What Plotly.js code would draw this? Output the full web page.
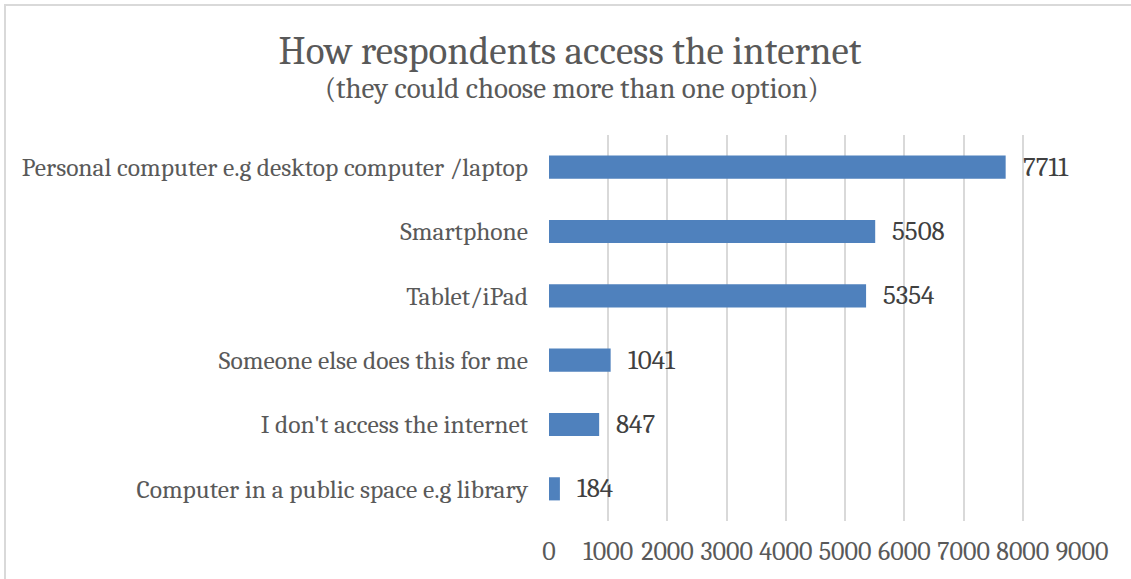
<!DOCTYPE html>
<html>
<head>
<meta charset="utf-8">
<script src="https://cdn.plot.ly/plotly-3.0.1.min.js"></script>
<style>
  html, body { margin: 0; padding: 0; background: #ffffff; }
  #chart { width: 1131px; height: 579px; position: relative; }
  #frame { position: absolute; left: 4px; top: 4px; width: 1140px; height: 600px;
           border-top: 2px solid #d9d9d9; border-left: 2px solid #d9d9d9; pointer-events: none; }
</style>
</head>
<body>
<div id="chart"></div>
<div id="frame"></div>
<script>
// Data
const categories = [
  "Computer in a public space e.g library",
  "I don't access the internet",
  "Someone else does this for me",
  "Tablet/iPad",
  "Smartphone",
  "Personal computer e.g desktop computer /laptop"
];
const counts = [184, 847, 1041, 5354, 5508, 7711];
const xTickValues = [0, 1000, 2000, 3000, 4000, 5000, 6000, 7000, 8000, 9000];
const titleText = "How respondents access the internet";
const subtitleText = "(they could choose more than one option)";

const FONT = "Cambria, 'Liberation Serif', 'DejaVu Serif', serif";
const GREY = "#595959";

const trace = {
  type: "bar",
  orientation: "h",
  x: counts,
  y: categories,
  marker: { color: "#4f81bd" },
  width: 0.36,
  hoverinfo: "x+y"
};

const annotations = categories.map((c, i) => ({
  x: counts[i], y: c, xref: "x", yref: "y",
  text: String(counts[i]),
  showarrow: false, xanchor: "left", yanchor: "middle",
  xshift: 15,
  font: { family: FONT, size: 27, color: "#404040" }
}));

annotations.push({
  xref: "paper", yref: "paper",
  x: (572 - 549) / 533, y: (521 - 88) / 386,
  xanchor: "center", yanchor: "middle",
  text: subtitleText, showarrow: false,
  font: { family: FONT, size: 29, color: GREY }
});

const layout = {
  width: 1131, height: 579,
  margin: { l: 549, r: 49, t: 135, b: 58 },
  paper_bgcolor: "#ffffff",
  plot_bgcolor: "#ffffff",
  font: { family: FONT, color: GREY, size: 25 },
  title: {
    text: titleText,
    xref: "container", yref: "container",
    x: 570 / 1131, xanchor: "center",
    y: 1 - 50 / 579, yanchor: "middle",
    font: { family: FONT, size: 39, color: GREY }
  },
  xaxis: {
    range: [0, 9000],
    tickvals: xTickValues,
    ticktext: xTickValues.map(String),
    showgrid: true, gridcolor: "#d9d9d9", gridwidth: 2,
    zeroline: false, showline: false,
    ticks: "", ticklabelstandoff: 12,
    tickfont: { family: FONT, size: 26, color: GREY },
    fixedrange: true
  },
  yaxis: {
    categoryorder: "array", categoryarray: categories,
    showgrid: false, zeroline: false, showline: false,
    ticks: "", ticklabelstandoff: 20,
    tickfont: { family: FONT, size: 25.5, color: GREY },
    fixedrange: true
  },
  annotations: annotations,
  showlegend: false,
  bargap: 0.64
};

Plotly.newPlot("chart", [trace], layout, { displayModeBar: false, staticPlot: true });
</script>
</body>
</html>
